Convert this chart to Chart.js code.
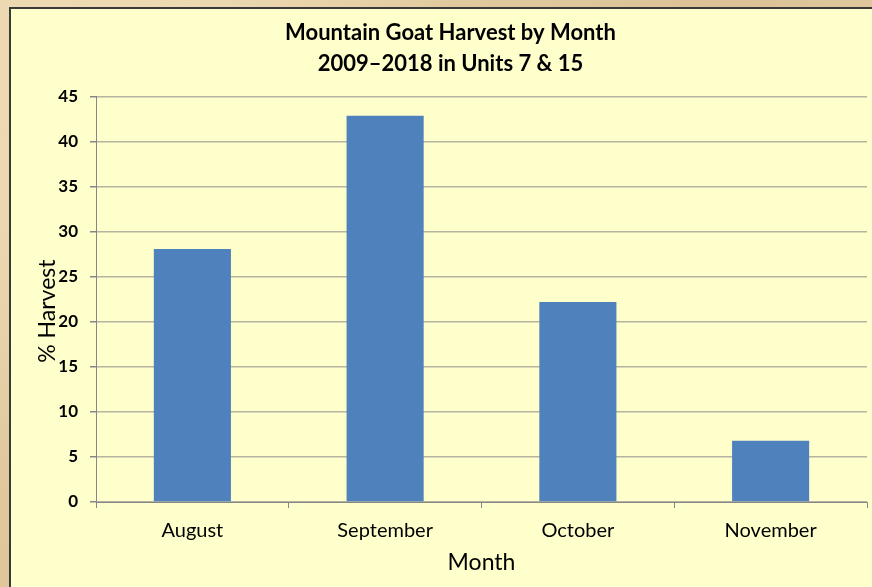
<!DOCTYPE html>
<html>
<head>
<meta charset="utf-8">
<script src="https://cdn.jsdelivr.net/npm/chart.js@4"></script>
<style>
  html, body { margin: 0; padding: 0; }
  body {
    width: 872px; height: 587px; overflow: hidden; position: relative;
    background: #e6cfa2;
    background-image:
      radial-gradient(circle at 20% 30%, rgba(255,240,210,0.5) 0, rgba(255,240,210,0) 40%),
      radial-gradient(circle at 70% 80%, rgba(200,170,120,0.35) 0, rgba(200,170,120,0) 45%),
      linear-gradient(135deg, #ead6ad, #dcc296 50%, #ebd8b2);
  }
  #box {
    position: absolute; left: 9px; top: 7px; width: 880px; height: 600px;
    background: #ffffcc; border: 2px solid #3a3a3a; box-sizing: border-box;
  }
  #wrap { position: absolute; left: 0; top: 0; width: 872px; height: 587px; }
</style>
</head>
<body>
<div id="box"></div>
<div id="wrap"><canvas id="c" width="872" height="587"></canvas></div>
<script>
const months = ["August", "September", "October", "November"];
const harvestPct = [28.1, 42.9, 22.2, 6.8];
const yTicks = [0, 5, 10, 15, 20, 25, 30, 35, 40, 45];
const titleLines = ["Mountain Goat Harvest by Month", "2009\u20132018 in Units 7 & 15"];
const yTitle = "% Harvest";
const xTitle = "Month";

const FONT = "Lato, 'Open Sans', sans-serif";

new Chart(document.getElementById("c"), {
  type: "bar",
  data: {
    labels: months,
    datasets: [{
      label: "% Harvest",
      data: harvestPct,
      backgroundColor: "#4f81bd",
      borderWidth: 0,
      categoryPercentage: 1.0,
      barPercentage: 0.4
    }]
  },
  options: {
    responsive: false,
    animation: false,
    devicePixelRatio: 1,
    layout: { padding: { left: 34, right: 5, top: 18, bottom: 11 } },
    plugins: {
      legend: { display: false },
      tooltip: { enabled: false },
      title: {
        display: true,
        text: titleLines,
        color: "#000",
        font: { family: FONT, size: 22, weight: "bold", lineHeight: 1.38 },
        padding: { top: 0, bottom: 18 }
      }
    },
    scales: {
      x: {
        afterFit: (s) => { s.height = 74; },
        grid: { display: true, drawOnChartArea: false, drawTicks: true, tickLength: 6, color: "#868686", offset: true },
        border: { display: true, color: "#868686", width: 1 },
        ticks: { color: "#000", font: { family: FONT, size: 20 }, padding: 11 },
        title: { display: true, text: xTitle, color: "#000", font: { family: FONT, size: 23 }, padding: { top: 0, bottom: 0 } }
      },
      y: {
        min: 0, max: 45,
        afterFit: (s) => { s.width = 62; },
        afterBuildTicks: (axis) => { axis.ticks = yTicks.map(v => ({ value: v })); },
        grid: { color: "#b4b4a0", lineWidth: 1.5, tickLength: 6, drawTicks: true, tickColor: "#868686" },
        border: { display: true, color: "#868686", width: 1 },
        ticks: { color: "#000", font: { family: FONT, size: 17, weight: "bold" }, padding: 12 },
        title: { display: true, text: yTitle + "    ", color: "#000", font: { family: FONT, size: 23 }, padding: { top: 0, bottom: 4 } }
      }
    }
  }
});
</script>
</body>
</html>
